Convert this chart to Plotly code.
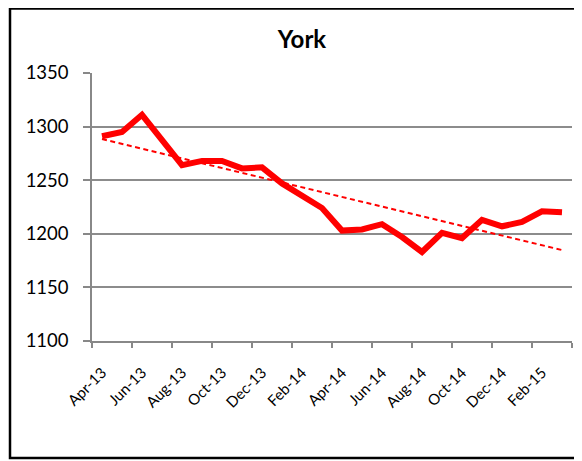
import numpy as np
import plotly.graph_objects as go

# monthly values, Apr-13 .. Mar-15
months = ["Apr-13", "May-13", "Jun-13", "Jul-13", "Aug-13", "Sep-13", "Oct-13", "Nov-13",
          "Dec-13", "Jan-14", "Feb-14", "Mar-14", "Apr-14", "May-14", "Jun-14", "Jul-14",
          "Aug-14", "Sep-14", "Oct-14", "Nov-14", "Dec-14", "Jan-15", "Feb-15", "Mar-15"]
values = [1291, 1295, 1311, 1287, 1264, 1268, 1268, 1261, 1262, 1247, 1236, 1224,
          1203, 1204, 1209, 1197, 1183, 1201, 1196, 1213, 1207, 1211, 1221, 1220]
y_ticks = [1100, 1150, 1200, 1250, 1300, 1350]

x = np.arange(len(months))
# linear trendline like Excel's
slope, icpt = np.polyfit(x, values, 1)
trend = slope * x + icpt

FONT = "Lato"
OFF = 8  # page body margin, everything below is in page pixels minus this
W, H = 582 - OFF, 461 - OFF
L, T = 92 - OFF, 73 - OFF
R = W - (572 - OFF)
B = H - (341 - OFF)
pw, ph = W - L - R, H - T - B

def px(xp):
    return (xp - OFF - L) / pw

def py(yp):
    return (H - B - (yp - OFF)) / ph

fig = go.Figure()
fig.add_trace(go.Scatter(x=x, y=values, mode="lines",
                         line=dict(color="#ff0000", width=6), showlegend=False))
fig.add_trace(go.Scatter(x=x, y=trend, mode="lines",
                         line=dict(color="#ff0000", width=2, dash="5px,3.5px"),
                         showlegend=False))
# dummy trace for the label axis
fig.add_trace(go.Scatter(x=x, y=values, xaxis="x2", mode="lines",
                         line=dict(width=0), hoverinfo="skip", showlegend=False))

fig.update_layout(
    width=W, height=H,
    margin=dict(l=L, r=R, t=T, b=B, autoexpand=False),
    paper_bgcolor="white", plot_bgcolor="white",
    font=dict(family=FONT, color="black"),
    title=dict(text="<b>York</b>", x=(302 - OFF) / W, xanchor="center",
               y=1 - (40 - OFF) / H, yanchor="middle", font=dict(size=24, family=FONT)),
    xaxis=dict(range=[-0.5, len(months) - 0.5],
               tickvals=list(np.arange(-0.5, len(months), 2)),
               ticktext=[""] * 13, ticks="outside", ticklen=5, tickcolor="#888888",
               tickwidth=1.5, showgrid=False, showline=True, linecolor="#888888",
               linewidth=1.5, zeroline=False),
    xaxis2=dict(range=[-0.5, len(months) - 0.5], overlaying="x", side="bottom",
                tickvals=list(x[::2]), ticktext=months[::2], tickangle=-45,
                ticks="outside", ticklen=5, tickcolor="rgba(0,0,0,0)",
                ticklabelstandoff=11,
                showgrid=False, showline=False, zeroline=False,
                tickfont=dict(size=15, family=FONT)),
    yaxis=dict(range=[1100, 1350], tickvals=y_ticks, ticks="outside", ticklen=7,
               tickwidth=1.5, ticklabelstandoff=11,
               tickcolor="#888888", showgrid=True, gridcolor="#8c8c8c", gridwidth=1.5,
               showline=True, linecolor="#888888", linewidth=1.5, zeroline=False,
               tickfont=dict(size=18.5, family=FONT)),
    shapes=[dict(type="rect", xref="paper", yref="paper",
                 x0=px(10), x1=px(610), y0=py(458), y1=py(OFF + 0.5),
                 line=dict(color="black", width=2.5), fillcolor="rgba(0,0,0,0)")],
)

fig.write_html("out.html")
